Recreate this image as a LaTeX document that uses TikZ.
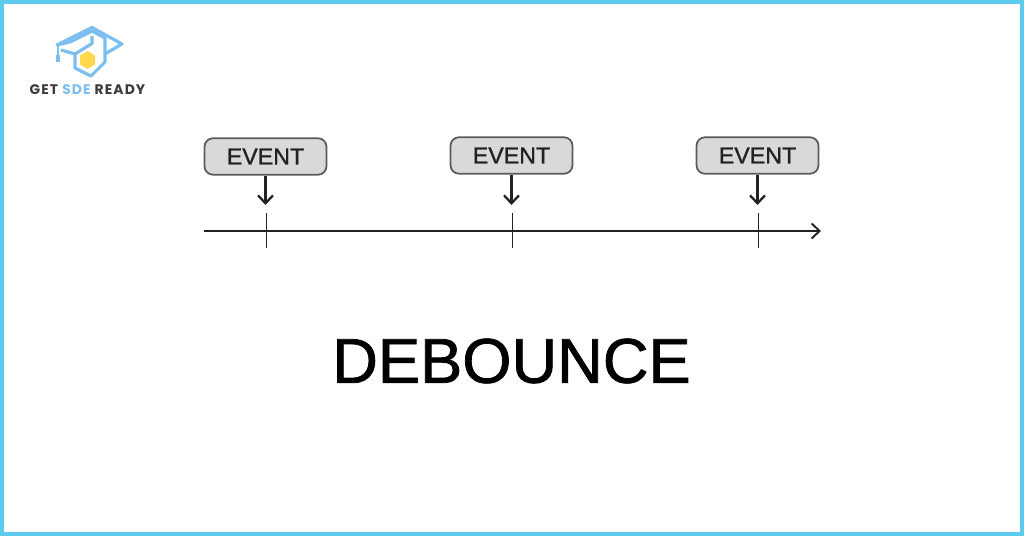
\documentclass[tikz,border=0pt]{standalone}
\usepackage{fontspec}
\setmainfont{Liberation Sans}
\newfontfamily\titlefont[FakeBold=1.2]{Liberation Sans}
\newfontfamily\logofont[LetterSpace=8]{Poppins}
\usepackage{tikz}
\usetikzlibrary{arrows.meta}
\definecolor{framecol}{HTML}{5CCBF2}
\definecolor{logoblue}{HTML}{7CBEF0}
\definecolor{logoyellow}{HTML}{FFD84D}
\definecolor{logotext}{HTML}{3A3A3A}
\definecolor{boxfill}{HTML}{D9D9D9}
\definecolor{boxline}{HTML}{5A5A5A}
\definecolor{axiscol}{HTML}{222222}
\tikzset{
  eventbox/.style={draw=boxline,fill=boxfill,rounded corners=1.7mm,line width=1pt,
    minimum width=2.44cm,minimum height=0.73cm,inner sep=0pt,text=axiscol,font=\titlefont\fontsize{13.2}{16}\selectfont},
  eventarrow/.style={axiscol,line width=1.3pt,-{Straight Barb[length=1.6mm,width=3mm]}},
  tickline/.style={axiscol,line width=0.6pt},
  axisline/.style={axiscol,line width=1.1pt,-{Straight Barb[length=1.6mm,width=3mm]}},
  logoline/.style={logoblue,line width=1.8pt,line join=round}
}

\begin{document}
\begin{tikzpicture}[x=0.02cm,y=-0.02cm]
\useasboundingbox (0,0) rectangle (1024,536);
% Frame
\draw[framecol,line width=2.4pt] (2,2) rectangle (1022,534);

% Logo
\draw[logoline] (70,42) -- (92,31) -- (105,38) -- (105,62) -- (91,76) -- (75,68) -- (75,53);
\draw[logoline] (70,42) -- (57,45) -- (92,27.5) -- (122,44) -- (105,54);
\draw[logoline] (61,50) -- (75,54) -- (92,43.5) -- (92,36);
\draw[logoblue,line width=0.9pt] (58,46) -- (58,56);
\draw[logoblue,line width=2pt] (58,55) -- (58,62);
\fill[logoyellow] (87.5,51) -- (95,55.5) -- (95,64.5) -- (87.5,69) -- (80,64.5) -- (80,55.5) -- cycle;
\node[anchor=center,inner sep=0pt,font=\logofont\bfseries\fontsize{7.9}{9}\selectfont,text=logotext] (logotitle) at (87.5,90)
  {GET \textcolor{logoblue}{SDE} READY};

% Event 1
\begin{scope}
\node[eventbox] (ev1) at (265.5,156.5) {EVENT};
\coordinate (tip1) at (265.5,205);
\coordinate (ticktop1) at (266.5,213);
\coordinate (tickbot1) at (266.5,248);
\draw[eventarrow] (ev1.south) -- (tip1);
\draw[tickline] (ticktop1) -- (tickbot1);
\end{scope}

% Event 2
\begin{scope}
\node[eventbox] (ev2) at (511.5,155.5) {EVENT};
\coordinate (tip2) at (511.5,205);
\coordinate (ticktop2) at (512.5,213);
\coordinate (tickbot2) at (512.5,248);
\draw[eventarrow] (ev2.south) -- (tip2);
\draw[tickline] (ticktop2) -- (tickbot2);
\end{scope}

% Event 3
\begin{scope}
\node[eventbox] (ev3) at (757.5,155.5) {EVENT};
\coordinate (tip3) at (757.5,205);
\coordinate (ticktop3) at (758.5,213);
\coordinate (tickbot3) at (758.5,248);
\draw[eventarrow] (ev3.south) -- (tip3);
\draw[tickline] (ticktop3) -- (tickbot3);
\end{scope}

% Axis
\coordinate (axisstart) at (204,231);
\coordinate (axisend) at (821,231);
\draw[axisline] (axisstart) -- (axisend);

% Title
\node[inner sep=0pt,text=black,font=\titlefont\fontsize{36}{44}\selectfont] (title) at (511.5,361) {DEBOUNCE};
\end{tikzpicture}
\end{document}
